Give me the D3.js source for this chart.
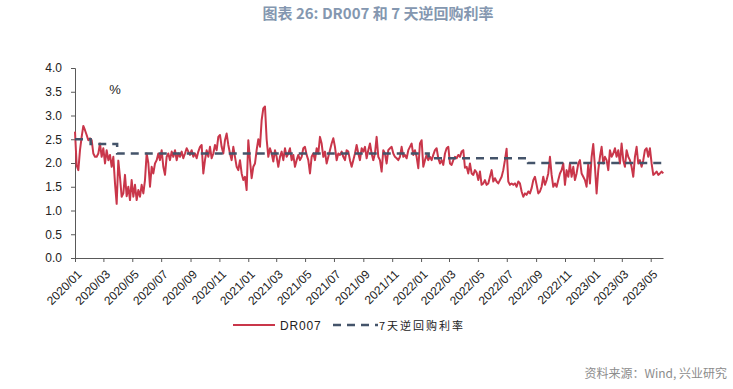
<!DOCTYPE html>
<meta charset="utf-8">
<svg width="733" height="389"></svg>
<script src="https://d3js.org/d3.v7.min.js"></script>
<style>
body {
    margin:0;
    overflow:hidden;
    background:#fff;
}
</style>
<script>

// DR007, one value every ~3.5 calendar days from 2020/01/01
var drStart = '2020-01-01';
var drStepDays = 3.52;
var dr007 = [
    2.66,1.95,1.85,2.27,2.55,2.78,2.69,2.59,2.48,2.52,2.48,2.2,2.13,2.13,2.2,2.41,2.13,2.31,1.99,2.27,
    2.06,2.17,1.92,2.13,1.57,1.14,2.05,1.7,1.29,1.36,1.75,1.3,1.5,1.22,1.64,1.29,1.54,1.22,1.43,1.29,
    1.54,1.36,1.64,2.2,2.0,1.5,1.92,1.78,1.99,2.06,2.2,2.06,2.27,1.92,1.75,2.13,2.2,2.06,2.24,2.13,
    2.27,2.06,2.2,2.13,2.24,2.1,2.2,2.31,2.24,2.17,2.27,2.13,2.2,2.1,2.24,2.34,2.38,1.78,2.06,2.27,
    2.13,2.34,2.1,2.2,2.38,2.27,2.55,2.59,2.34,2.2,2.48,2.62,2.38,2.2,2.06,2.34,2.13,1.92,1.85,2.06,
    1.78,1.64,1.71,1.43,2.48,2.06,1.68,1.92,1.99,2.27,2.5,2.34,2.9,3.15,3.19,2.5,2.13,2.31,2.2,2.03,
    2.27,2.13,1.92,2.13,2.24,2.06,2.31,2.13,2.2,2.31,2.06,2.17,1.92,2.06,2.17,2.06,2.13,2.31,2.34,2.17,
    2.06,1.78,2.13,2.2,2.06,2.31,2.2,2.55,2.41,2.13,2.24,1.99,2.13,2.27,2.41,2.52,2.34,2.06,2.2,2.17,
    2.24,2.13,2.06,2.27,2.24,2.06,1.92,2.06,2.2,2.38,2.2,2.06,2.31,2.24,2.34,2.1,2.27,
    2.41,2.2,2.06,2.2,2.55,2.13,2.06,1.82,2.27,2.2,1.99,2.27,2.31,2.34,2.2,2.13,2.1,2.06,2.13,2.34,
    2.13,2.17,2.1,2.27,2.34,2.41,2.17,2.27,2.13,1.89,2.41,2.48,1.92,2.06,2.17,2.06,2.13,2.06,2.17,2.27,
    2.31,2.1,1.99,2.06,1.96,2.2,2.31,2.34,1.99,1.96,2.06,2.13,2.1,2.17,2.13,2.24,2.27,1.9,1.92,1.78,
    1.99,1.78,1.75,1.85,1.8,1.64,1.82,1.54,1.57,1.64,1.54,1.57,1.71,1.85,1.61,1.68,1.61,1.57,1.64,1.71,
    1.85,2.06,2.3,1.61,1.54,1.57,1.54,1.57,1.5,1.61,1.57,1.4,1.29,1.36,1.33,1.4,1.36,1.47,1.64,1.71,
    1.54,1.36,1.4,1.5,1.71,1.54,1.64,1.78,2.13,1.75,1.5,1.57,1.5,1.64,1.78,1.85,1.99,1.54,1.85,1.71,
    1.99,1.71,1.92,1.64,1.78,1.99,2.06,1.78,1.71,1.64,1.5,1.99,1.57,2.13,2.4,1.92,1.36,1.85,2.13,2.34,
    1.99,2.13,2.06,1.85,2.27,2.13,2.2,2.31,2.13,2.27,1.99,2.41,2.06,1.92,2.27,2.13,2.06,1.92,1.71,2.13,
    2.34,1.99,2.06,1.92,2.06,2.27,2.31,2.13,2.31,1.99,1.75,1.78,1.82,1.75,1.78,1.82,1.78
];

// 7-day reverse repo rate, step changes
var repoDates = ['2020-01-01', '2020-02-03', '2020-03-30', '2022-01-17', '2022-08-15', '2023-05-27'];
var repoRates = [2.5, 2.4, 2.2, 2.1, 2.0, 2.0];

var yTicks = [0, 0.5, 1, 1.5, 2, 2.5, 3, 3.5, 4];

var red = '#C9364A';
var navy = '#44546A';
var parse = d3.timeParse('%Y-%m-%d');

var drData = dr007.map(function(v, i) {
    return { date: d3.timeHour.offset(parse(drStart), Math.round(i * drStepDays * 24)), value: v }
});
var repoData = repoDates.map(function(d, i) {
    return { date: parse(d), value: repoRates[i] }
});

var svg = d3.select('svg');

var x = d3.scaleTime()
    .domain([parse('2020-01-01'), parse('2023-05-27')])
    .range([75, 663]);
var y = d3.scaleLinear()
    .domain([0, 4])
    .range([258, 68]);

// title
svg.append('text')
    .attr('x', 378)
    .attr('y', 19)
    .attr('text-anchor', 'middle')
    .attr('font-family', '"Noto Sans CJK SC", "Noto Sans", sans-serif')
    .attr('font-weight', 'bold')
    .attr('font-size', 15)
    .attr('fill', '#8497B0')
    .text('图表 26: DR007 和 7 天逆回购利率');

// y axis
var yAxis = svg.append('g')
    .attr('transform', 'translate(75,0)')
    .call(d3.axisLeft(y).tickValues(yTicks).tickSize(4).tickPadding(9)
        .tickFormat(d3.format('.1f')));
yAxis.select('.domain').attr('stroke', '#595959');
yAxis.selectAll('.tick line').attr('stroke', '#595959');
yAxis.selectAll('text')
    .attr('font-family', '"Liberation Sans", Arial, sans-serif')
    .attr('font-size', 12)
    .attr('fill', '#222');

// x axis
var xAxis = svg.append('g')
    .attr('transform', 'translate(0,258)')
    .call(d3.axisBottom(x).ticks(d3.timeMonth.every(2)).tickSize(4)
        .tickSizeOuter(0).tickFormat(d3.timeFormat('%Y/%m')));
xAxis.select('.domain').attr('stroke', '#595959');
xAxis.selectAll('.tick line').attr('stroke', '#595959');
xAxis.selectAll('text')
    .attr('font-family', '"Liberation Sans", Arial, sans-serif')
    .attr('font-size', 12)
    .attr('fill', '#222')
    .attr('text-anchor', 'end')
    .attr('dy', '0.35em')
    .attr('transform', 'translate(4,14) rotate(-45)')
    .attr('y', 0)
    .attr('x', 0);

svg.append('text')
    .attr('x', 115)
    .attr('y', 94)
    .attr('text-anchor', 'middle')
    .attr('font-family', '"Liberation Sans", Arial, sans-serif')
    .attr('font-size', 13)
    .attr('fill', '#222')
    .text('%');

var line = d3.line()
    .x(function(d) { return x(d.date) })
    .y(function(d) { return y(d.value) });

svg.append('path')
    .datum(drData)
    .attr('fill', 'none')
    .attr('stroke', red)
    .attr('stroke-width', 2)
    .attr('stroke-linejoin', 'round')
    .attr('d', line);

svg.append('path')
    .datum(repoData)
    .attr('fill', 'none')
    .attr('stroke', navy)
    .attr('stroke-width', 2.5)
    .attr('stroke-dasharray', '8,6')
    .attr('d', line.curve(d3.curveStepAfter));

// legend
var legend = svg.append('g')
    .attr('font-family', '"Liberation Sans", "Noto Sans CJK SC", sans-serif')
    .attr('font-size', 12)
    .attr('fill', '#222');
legend.append('line')
    .attr('x1', 233).attr('x2', 275).attr('y1', 325).attr('y2', 325)
    .attr('stroke', red).attr('stroke-width', 2);
legend.append('text')
    .attr('x', 280).attr('y', 329.5)
    .attr('letter-spacing', 0.8)
    .text('DR007');
legend.append('line')
    .attr('x1', 333).attr('x2', 378).attr('y1', 325).attr('y2', 325)
    .attr('stroke', navy).attr('stroke-width', 2.5)
    .attr('stroke-dasharray', '8,6');
legend.append('text')
    .attr('x', 379).attr('y', 329.5)
    .attr('font-family', '"Noto Sans CJK SC", sans-serif')
    .attr('font-size', 11)
    .attr('letter-spacing', 2)
    .text('7天逆回购利率');

// source
svg.append('text')
    .attr('x', 727)
    .attr('y', 378)
    .attr('text-anchor', 'end')
    .attr('font-family', '"Noto Sans CJK SC", sans-serif')
    .attr('font-size', 12)
    .attr('fill', '#8C8C8C')
    .text('资料来源：Wind, 兴业研究');

</script>
